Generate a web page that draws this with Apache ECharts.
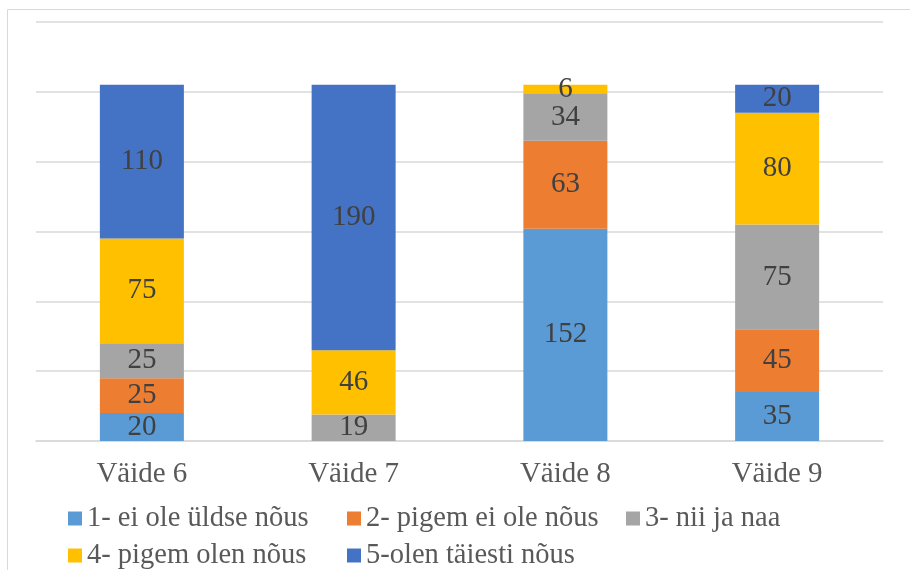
<!DOCTYPE html>
<html>
<head>
<meta charset="utf-8">
<script src="https://cdn.jsdelivr.net/npm/echarts@6/dist/echarts.min.js"></script>
<style>
  html, body { margin: 0; padding: 0; background: #fff; }
  #chart { width: 910px; height: 570px; }
</style>
</head>
<body>
<div id="chart"></div>
<script>
// categories and series
const categories = ['Väide 6', 'Väide 7', 'Väide 8', 'Väide 9']
const seriesNames = ['1- ei ole üldse nõus', '2- pigem ei ole nõus', '3- nii ja naa', '4- pigem olen nõus', '5-olen täiesti nõus']
const vals1 = [20, 0, 152, 35]
const vals2 = [25, 0, 63, 45]
const vals3 = [25, 19, 34, 75]
const vals4 = [75, 46, 6, 80]
const vals5 = [110, 190, 0, 20]
const colors = ['#5B9BD5', '#ED7D31', '#A5A5A5', '#FFC000', '#4472C4']

const font = '"Liberation Serif", "Times New Roman", serif'
const allVals = [vals1, vals2, vals3, vals4, vals5]

const chart = echarts.init(document.getElementById('chart'))

const series = allVals.map((v, i) => ({
  name: seriesNames[i],
  type: 'bar',
  stack: 'total',
  barWidth: 84,
  data: v,
  itemStyle: { color: colors[i] },
  label: {
    show: true,
    position: 'inside',
    fontFamily: font,
    fontSize: 29,
    color: '#404040',
    formatter: p => (p.value ? String(p.value) : '')
  }
}))

chart.setOption({
  animation: false,
  color: colors,
  grid: { left: 36, right: 27, top: 22, bottom: 129 },
  graphic: [{
    type: 'rect',
    shape: { x: 7.5, y: 9.5, width: 1000, height: 1000 },
    style: { fill: 'none', stroke: '#d9d9d9', lineWidth: 1 },
    silent: true
  }],
  legend: {
    left: 63,
    top: 499,
    width: 850,
    itemWidth: 14,
    itemHeight: 14,
    itemGap: 8,
    icon: 'rect',
    textStyle: { fontFamily: font, fontSize: 28.5, color: '#595959', width: 252, lineHeight: 20 }
  },
  xAxis: {
    type: 'category',
    data: categories,
    axisTick: { show: false },
    axisLine: { lineStyle: { color: '#d9d9d9', width: 1.5 } },
    axisLabel: { fontFamily: font, fontSize: 29, color: '#595959', margin: 19 }
  },
  yAxis: {
    type: 'value',
    min: 0,
    max: 300,
    interval: 50,
    axisLabel: { show: false },
    axisLine: { show: false },
    axisTick: { show: false },
    splitLine: { lineStyle: { color: '#d9d9d9', width: 1.5 } }
  },
  series: series
})
</script>
</body>
</html>
